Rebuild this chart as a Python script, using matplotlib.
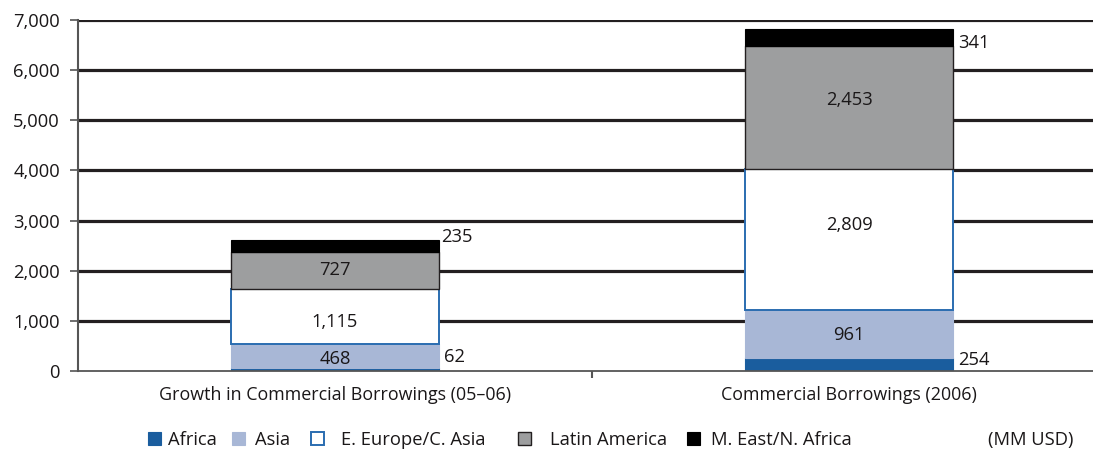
import matplotlib
matplotlib.use("Agg")
import matplotlib.pyplot as plt
from matplotlib.patches import Patch

plt.rcParams['font.family'] = ['Open Sans', 'DejaVu Sans']

categories = ["Growth in Commercial Borrowings (05\u201306)", "Commercial Borrowings (2006)"]
regions = ["Africa", "Asia", "E. Europe/C. Asia", "Latin America", "M. East/N. Africa"]
africa = [62, 254]
asia = [468, 961]
eeurope = [1115, 2809]
latam = [727, 2453]
meast = [235, 341]
yticks = [0, 1000, 2000, 3000, 4000, 5000, 6000, 7000]

series = [africa, asia, eeurope, latam, meast]
faces = ["#1a5d9e", "#a8b7d6", "#ffffff", "#9d9e9f", "#000000"]
edges = ["#1a5d9e", "#a8b7d6", "#2a6cb0", "#231f20", "#000000"]
edge_w = [0.8, 0.8, 1.4, 1.0, 0.8]
text_c = "#1a1718"
fs = 13.2

fig = plt.figure(figsize=(10.93, 4.53), dpi=100)
ax = fig.add_axes([0.0714, 0.181, 1.0 - 0.0714, 0.7748])

x = list(range(len(categories)))
width = 0.405
bottoms = [0, 0]
for vals, fc, ec, lw in zip(series, faces, edges, edge_w):
    ax.bar(x, vals, width, bottom=bottoms, color=fc, edgecolor=ec,
           linewidth=lw, zorder=3)
    bottoms = [bt + v for bt, v in zip(bottoms, vals)]

# values printed inside the middle segments (small vertical nudges in pixels)
inner_nudge = {1: [-3, -1], 2: [-6, 15], 3: [0, 8]}
cum = [0, 0]
for i, vals in enumerate(series):
    for j, v in enumerate(vals):
        mid = cum[j] + v / 2
        if i in inner_nudge:
            ax.annotate(f"{v:,}", xy=(x[j], mid), xytext=(0, inner_nudge[i][j]),
                        textcoords="offset pixels", ha="center", va="center",
                        fontsize=fs, color=text_c, zorder=4)
    cum = [c + v for c, v in zip(cum, vals)]

# values of the thin segments printed beside the bars
right = [xi + width / 2 for xi in x]
africa_offsets = [(5, 14), (5, 11)]
for j, v in enumerate(africa):
    ax.annotate(f"{v:,}", xy=(right[j], 0), xytext=africa_offsets[j],
                textcoords="offset pixels", ha="left", va="center",
                fontsize=fs, color=text_c)
tops = [sum(s[j] for s in series) for j in x]
me_offsets = [(2, 3), (5, -14)]
for j, v in enumerate(meast):
    ax.annotate(f"{v:,}", xy=(right[j], tops[j]), xytext=me_offsets[j],
                textcoords="offset pixels", ha="left", va="center",
                fontsize=fs, color=text_c)

ax.set_ylim(0, 7000)
ax.set_xlim(-0.5, -0.5 + 1015 / 514)
ax.set_yticks(yticks)
ax.set_yticklabels([f"{t:,}" for t in yticks], fontsize=fs, color=text_c)
for t in yticks[1:]:
    ax.axhline(t, color="#231f20", linewidth=2.3, zorder=1)

ax.set_xticks(x)
ax.set_xticklabels(categories, fontsize=12.9, color=text_c)
ax.tick_params(axis="x", which="major", length=0, pad=11)
ax.set_xticks([0.5], minor=True)
ax.tick_params(axis="x", which="minor", length=5, width=1.5, color="#555555")
ax.tick_params(axis="y", length=6, width=1.2, color="#555555", pad=7)

for s in ("top", "right"):
    ax.spines[s].set_visible(False)
ax.spines["left"].set_color("#555555")
ax.spines["left"].set_linewidth(1.5)
ax.spines["bottom"].set_color("#555555")
ax.spines["bottom"].set_linewidth(1.3)
ax.spines["bottom"].set_zorder(5)

# legend: one entry per region, each placed along the bottom row
handles = [Patch(facecolor=fc, edgecolor=ec, linewidth=1.4 if i == 2 else 0.8)
           for i, (fc, ec) in enumerate(zip(faces, edges))]
handles[3] = Patch(facecolor=faces[3], edgecolor="#231f20", linewidth=1.0)
entry_x = [148, 232, 311, 518, 687]
entry_pad = [0.4, 0.55, 0.95, 1.05, 0.6]
for h, lab, ex, pad in zip(handles, regions, entry_x, entry_pad):
    fig.legend([h], [lab], loc="center left",
               bbox_to_anchor=(ex / 1093, 1 - 440 / 453),
               frameon=False, fontsize=fs, handlelength=0.7,
               handleheight=0.7, handletextpad=pad, borderpad=0,
               borderaxespad=0, labelcolor=text_c)
fig.text(1073 / 1093, 1 - 440 / 453, "(MM USD)", ha="right", va="center",
         fontsize=fs, color=text_c)

fig.savefig("out.png", dpi=100)
